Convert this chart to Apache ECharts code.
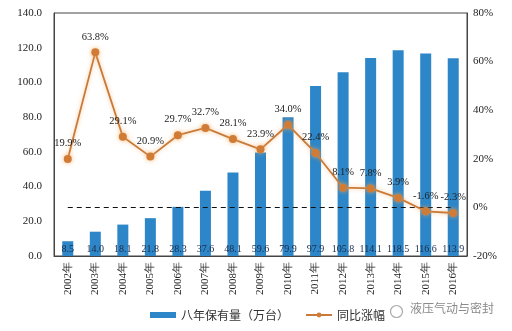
<!DOCTYPE html>
<html>
<head>
<meta charset="utf-8">
<style>
  html, body { margin: 0; padding: 0; background: #fff; }
  #chart { width: 512px; height: 331px; }
</style>
<script src="https://cdn.jsdelivr.net/npm/echarts@6/dist/echarts.min.js"></script>
</head>
<body>
<div id="chart"></div>
<script>
// Excavator fleet size (10k units) and year-over-year growth, 2002-2016
const years = ['2002年','2003年','2004年','2005年','2006年','2007年','2008年','2009年','2010年','2011年','2012年','2013年','2014年','2015年','2016年'];
const fleet = [8.5, 14.0, 18.1, 21.8, 28.3, 37.6, 48.1, 59.6, 79.9, 97.9, 105.8, 114.1, 118.5, 116.6, 113.9];
const growth = [19.9, 63.8, 29.1, 20.9, 29.7, 32.7, 28.1, 23.9, 34.0, 22.4, 8.1, 7.8, 3.9, -1.6, -2.3];
const seriesNames = ['八年保有量（万台）', '同比涨幅'];
const watermark = '液压气动与密封';

const serif = '"Liberation Serif", "DejaVu Serif", serif';
const cjk = '"Noto Sans CJK SC", sans-serif';

const chart = echarts.init(document.getElementById('chart'), null, { renderer: 'canvas' });
chart.setOption({
  animation: false,
  backgroundColor: '#fff',
  grid: { left: 54, right: 45, top: 13, bottom: 75, show: true, borderColor: '#444', borderWidth: 1 },
  legend: {
    bottom: 5, left: 145,
    itemGap: 16,
    itemWidth: 26, itemHeight: 6,
    textStyle: { fontFamily: cjk, fontSize: 12, color: '#333' },
    data: [
      { name: seriesNames[0], icon: 'rect' },
      { name: seriesNames[1] }
    ]
  },
  xAxis: {
    type: 'category',
    data: years,
    axisLine: { lineStyle: { color: '#444' } },
    axisTick: { show: false },
    axisLabel: {
      rotate: 90, interval: 0, margin: 6,
      fontFamily: serif, fontSize: 11, color: '#222'
    }
  },
  yAxis: [
    {
      type: 'value', min: 0, max: 140, interval: 20,
      splitLine: { show: false },
      axisLine: { show: true, lineStyle: { color: '#444' } },
      axisTick: { show: false },
      axisLabel: { formatter: v => v.toFixed(1), fontFamily: serif, fontSize: 11, color: '#222', margin: 12 }
    },
    {
      type: 'value', min: -20, max: 80, interval: 20,
      splitLine: { show: false },
      axisLine: { show: true, lineStyle: { color: '#444' } },
      axisTick: { show: false },
      axisLabel: { formatter: v => v + '%', fontFamily: serif, fontSize: 11, color: '#222', margin: 6 }
    }
  ],
  series: [
    {
      name: seriesNames[0],
      type: 'bar',
      data: fleet,
      barWidth: 11,
      itemStyle: { color: '#2D86C7' },
      label: {
        show: true, position: 'insideBottom', distance: 2,
        formatter: p => p.value.toFixed(1),
        fontFamily: serif, fontSize: 10, color: '#1c2b48'
      }
    },
    {
      name: seriesNames[1],
      type: 'line',
      yAxisIndex: 1,
      data: growth,
      symbol: 'circle', symbolSize: 8,
      lineStyle: { color: '#C97A38', width: 1.8, shadowColor: 'rgba(240,160,80,0.6)', shadowBlur: 4 },
      itemStyle: { color: '#D07C36', shadowColor: 'rgba(245,170,90,0.8)', shadowBlur: 5 },
      label: {
        show: true, position: 'top', distance: 6,
        formatter: p => p.value.toFixed(1) + '%',
        fontFamily: serif, fontSize: 10.5, color: '#222'
      },
      z: 5,
      markLine: {
        silent: true, symbol: 'none',
        label: { show: false },
        lineStyle: { color: '#111', type: [5, 4], width: 1.2 },
        data: [[{ coord: [0, 0] }, { coord: [years.length - 1, 0] }]]
      }
    }
  ],
  graphic: [
    {
      type: 'circle', left: 388, top: 303, shape: { r: 6 },
      style: { fill: 'none', stroke: '#aaa', lineWidth: 1.2 }
    },
    {
      type: 'text', left: 410, top: 302,
      style: { text: watermark, fill: '#8a8a8a', font: '12px "Noto Sans CJK SC", sans-serif' }
    }
  ]
});
</script>
</body>
</html>
